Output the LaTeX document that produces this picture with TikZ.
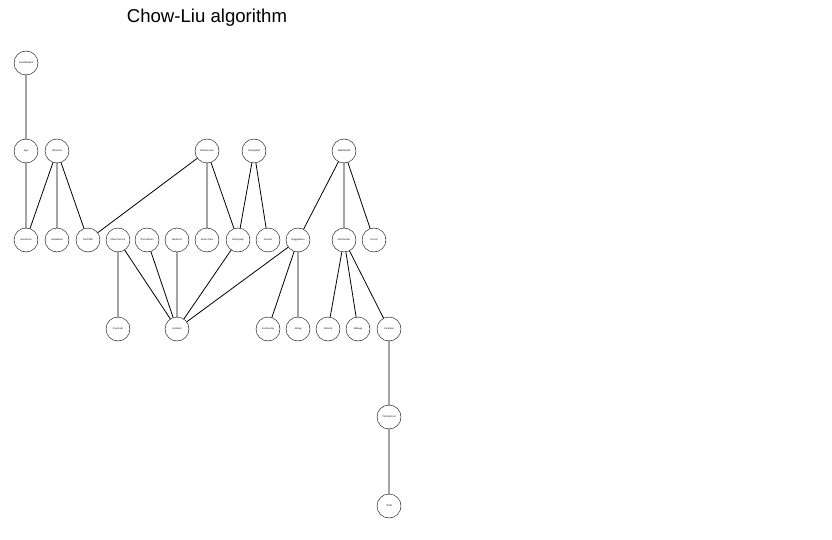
\documentclass[tikz,border=0pt]{standalone}
\usepackage{fontspec}
\setmainfont{Liberation Sans}
\tikzset{var/.style={circle,draw,minimum size=24pt,inner sep=0pt,font=\fontsize{2.4}{3}\selectfont},
	link/.style={line width=0.8pt}}
\begin{document}
\begin{tikzpicture}[x=1pt,y=-1pt,line join=round,line cap=round]
	\useasboundingbox (0,0) rectangle (832,540);
	\node[font=\fontsize{18.6}{22}\selectfont] (title) at (207,18) {Chow-Liu algorithm};
	% rank 1 and 2
	\node[var] (GoodStudent) at (26,63) {GoodStudent};
	\node[var] (Age) at (26,151) {Age};
	\node[var] (OtherCar) at (57,151) {OtherCar};
	\node[var] (RiskAversion) at (207,151) {RiskAversion};
	\node[var] (DrivingSkill) at (254,151) {DrivingSkill};
	\node[var] (MakeModel) at (344,151) {MakeModel};
	% rank 3
	\node[var] (SocioEcon) at (26,240) {SocioEcon};
	\node[var] (HomeBase) at (57,240) {HomeBase};
	\node[var] (AntiTheft) at (88,240) {AntiTheft};
	\node[var] (OtherCarCost) at (118,240) {OtherCarCost};
	\node[var] (ThisCarDam) at (147,240) {ThisCarDam};
	\node[var] (MedCost) at (177,240) {MedCost};
	\node[var] (SeniorTrain) at (207,240) {SeniorTrain};
	\node[var] (DrivQuality) at (238,240) {DrivQuality};
	\node[var] (DrivHist) at (268,240) {DrivHist};
	\node[var] (RuggedAuto) at (298,240) {RuggedAuto};
	\node[var] (VehicleYear) at (344,240) {VehicleYear};
	\node[var] (ILiCost) at (374,240) {ILiCost};
	% rank 4 to 6
	\node[var] (PropCost) at (118,329) {PropCost};
	\node[var] (Accident) at (177,329) {Accident};
	\node[var] (Cushioning) at (268,329) {Cushioning};
	\node[var] (Airbag) at (298,329) {Airbag};
	\node[var] (Antilock) at (328,329) {Antilock};
	\node[var] (Mileage) at (358,329) {Mileage};
	\node[var] (CarValue) at (389,329) {CarValue};
	\node[var] (ThisCarCost) at (389,417) {ThisCarCost};
	\node[var] (Theft) at (389,506) {Theft};
	% edges of the tree
	\draw[link] (GoodStudent)--(Age) (Age)--(SocioEcon)
		(OtherCar)--(SocioEcon) (OtherCar)--(HomeBase) (OtherCar)--(AntiTheft)
		(RiskAversion)--(AntiTheft) (RiskAversion)--(SeniorTrain) (RiskAversion)--(DrivQuality)
		(DrivingSkill)--(DrivQuality) (DrivingSkill)--(DrivHist)
		(MakeModel)--(RuggedAuto) (MakeModel)--(VehicleYear) (MakeModel)--(ILiCost);
	\draw[link] (OtherCarCost)--(PropCost) (OtherCarCost)--(Accident)
		(ThisCarDam)--(Accident) (MedCost)--(Accident) (DrivQuality)--(Accident)
		(RuggedAuto)--(Accident) (RuggedAuto)--(Cushioning) (RuggedAuto)--(Airbag)
		(VehicleYear)--(Antilock) (VehicleYear)--(Mileage) (VehicleYear)--(CarValue)
		(CarValue)--(ThisCarCost) (ThisCarCost)--(Theft);
\end{tikzpicture}
\end{document}
